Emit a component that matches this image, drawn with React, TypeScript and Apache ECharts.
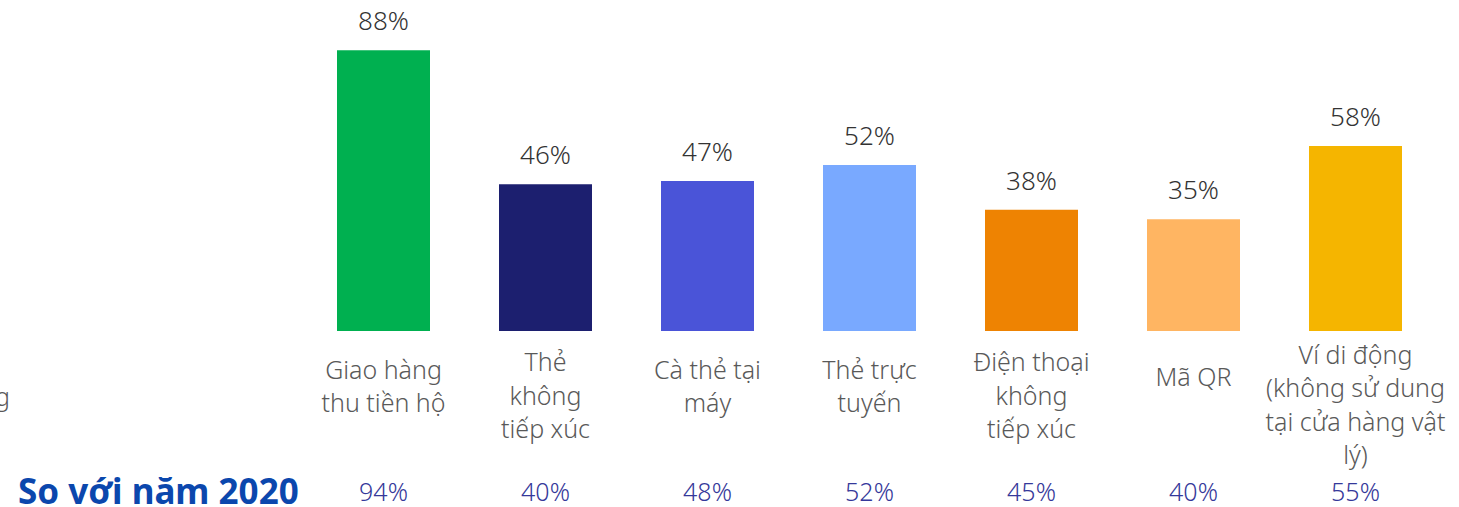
import React, { useEffect, useRef } from "react";
import * as echarts from "echarts";

const categories = [
  "Giao hàng\nthu tiền hộ",
  "Thẻ\nkhông\ntiếp xúc",
  "Cà thẻ tại\nmáy",
  "Thẻ trực\ntuyến",
  "Điện thoại\nkhông\ntiếp xúc",
  "Mã QR",
  "Ví di động\n(không sử dung\ntại cửa hàng vật\nlý)",
];
const values2021 = [88, 46, 47, 52, 38, 35, 58];
const values2020 = [94, 40, 48, 52, 45, 40, 55];
const barColors = ["#00B050", "#1C1F6F", "#4A54D8", "#79A9FF", "#EE8302", "#FFB562", "#F5B500"];
const compareTitle = "So với năm 2020";

const FONT = "'Noto Sans', 'Open Sans', sans-serif";

export default function App() {
  const ref = useRef<HTMLDivElement>(null);
  useEffect(() => {
    if (!ref.current) return;
    const chart = echarts.init(ref.current, null, { renderer: "svg" });
    const catItems = categories.map((c) => {
      const n = c.split("\n").length;
      return { value: c, textStyle: { padding: [(4 - n) * 7.5, 0, 0, 0] } };
    });
    chart.setOption({
      animation: false,
      backgroundColor: "#ffffff",
      grid: { left: 302.5, right: 22.5, top: 12, bottom: 176, containLabel: false },
      xAxis: [
        {
          type: "category",
          data: catItems,
          axisLine: { show: false },
          axisTick: { show: false },
          axisLabel: {
            interval: 0,
            margin: 6,
            verticalAlign: "top",
            fontFamily: FONT,
            fontWeight: 300,
            fontSize: 25,
            lineHeight: 33.5,
            color: "#595959",
          },
        },
        {
          type: "category",
          position: "bottom",
          data: categories,
          axisLine: { show: false },
          axisTick: { show: false },
          axisLabel: {
            interval: 0,
            margin: 160,
            verticalAlign: "middle",
            fontFamily: FONT,
            fontWeight: 300,
            fontSize: 25,
            lineHeight: 24,
            color: "#35389A",
            formatter: (_v: string, i: number) => values2020[i] + "%",
          },
        },
      ],
      yAxis: { type: "value", min: 0, max: 100, show: false, splitLine: { show: false } },
      series: [
        {
          type: "bar",
          barWidth: 93,
          data: values2021.map((v, i) => ({ value: v, itemStyle: { color: barColors[i] } })),
          label: {
            show: true,
            position: "top",
            distance: 17,
            fontFamily: FONT,
            fontWeight: 300,
            fontSize: 26,
            color: "#333333",
            formatter: "{c}%",
          },
        },
      ],
      graphic: [
        {
          type: "text",
          left: 18,
          top: 473,
          style: { text: compareTitle, fontFamily: FONT, fontWeight: "bold", fontSize: 35, lineHeight: 31, fill: "#0B47AD" },
        },
        {
          type: "text",
          left: -5,
          top: 383,
          style: { text: "g", fontFamily: FONT, fontWeight: 300, fontSize: 25, fill: "#595959" },
        },
      ],
    });
    return () => chart.dispose();
  }, []);
  return <div ref={ref} style={{ width: 1459, height: 507, position: "absolute", left: 0, top: 0 }} />;
}
